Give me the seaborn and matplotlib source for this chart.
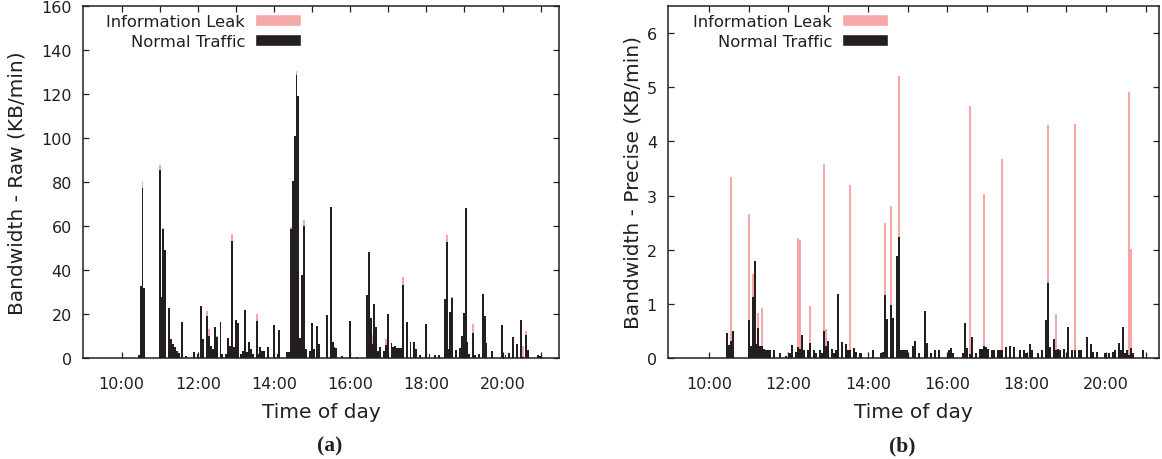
import matplotlib.pyplot as plt
import numpy as np
import pandas as pd
import seaborn as sns
from matplotlib.patches import Patch

LEAK_COLOR = "#F5A8A7"
NORMAL_COLOR = "#231F20"
INK = "#231F20"

# (a) raw bandwidth, KB/min, 3-minute bins
raw_times = [
    "10:27", "10:30", "10:33", "10:36", "11:00", "11:03", "11:06", "11:09", "11:15", "11:18",
    "11:21", "11:24", "11:27", "11:30", "11:36", "11:42", "11:54", "12:00", "12:06", "12:09",
    "12:15", "12:18", "12:21", "12:24", "12:27", "12:30", "12:36", "12:39", "12:45", "12:48",
    "12:51", "12:54", "12:57", "13:00", "13:03", "13:09", "13:12", "13:15", "13:18", "13:21",
    "13:24", "13:27", "13:33", "13:36", "13:39", "13:42", "13:45", "13:51", "14:00", "14:06",
    "14:09", "14:21", "14:24", "14:27", "14:30", "14:33", "14:36", "14:39", "14:42", "14:45",
    "14:48", "14:51", "14:57", "15:00", "15:03", "15:09", "15:12", "15:24", "15:30", "15:33",
    "15:36", "15:39", "15:48", "16:00", "16:12", "16:27", "16:30", "16:33", "16:36", "16:39",
    "16:42", "16:45", "16:48", "16:54", "16:57", "17:00", "17:06", "17:09", "17:12", "17:15",
    "17:18", "17:21", "17:24", "17:30", "17:36", "17:42", "17:45", "17:51", "18:00", "18:06",
    "18:15", "18:21", "18:30", "18:33", "18:36", "18:39", "18:42", "18:48", "18:54", "18:57",
    "19:00", "19:03", "19:06", "19:09", "19:15", "19:18", "19:24", "19:30", "19:33", "19:36",
    "19:45", "20:00", "20:06", "20:12", "20:18", "20:24", "20:30", "20:33", "20:39", "20:42",
    "20:57", "21:00",
]
raw_normal = [
    1.4, 32.6, 77.3, 31.7, 85.6, 27.6, 58.8, 49.2, 22.6, 8.7,
    6.4, 4.9, 3.3, 2.3, 16.2, 1.1, 2.6, 1.8, 23.5, 8.7,
    19.3, 10.2, 5.6, 4.1, 14.3, 9.4, 16.2, 1.8, 1.8, 9.1,
    5.6, 53.0, 4.9, 17.5, 15.9, 1.8, 3.3, 22.0, 2.6, 7.1,
    4.1, 1.8, 17.0, 1.8, 4.9, 3.3, 3.3, 4.9, 15.2, 1.8,
    12.8, 2.6, 2.6, 58.8, 80.3, 101.0, 128.6, 119.1, 9.0, 37.8,
    59.8, 4.1, 3.3, 15.9, 4.1, 14.7, 6.4, 19.6, 68.5, 7.1,
    4.9, 4.6, 1.1, 16.7, 0.6, 28.7, 48.4, 18.1, 6.4, 24.6,
    14.0, 3.3, 4.9, 3.3, 5.9, 20.0, 6.8, 4.9, 5.3, 4.6,
    4.6, 4.6, 33.3, 16.2, 7.1, 7.1, 4.1, 1.4, 15.5, 1.8,
    1.4, 1.4, 26.9, 52.8, 4.1, 20.8, 27.2, 3.8, 4.4, 9.9,
    20.5, 68.2, 7.1, 1.8, 11.4, 1.4, 1.8, 28.9, 19.0, 6.7,
    3.3, 15.2, 1.4, 2.1, 9.7, 6.4, 17.5, 0.5, 10.6, 3.8,
    1.4, 1.1,
]
raw_leak = [
    0, 0, 2.9, 0, 2.0, 0, 0.3, 0, 0, 0,
    0, 0, 0, 0, 0, 0, 0, 0, 0, 0,
    2.0, 3.0, 0, 0, 0, 0.5, 0, 0, 0, 0,
    0, 3.3, 0, 0, 0, 0, 0, 0, 0, 0,
    0, 0, 3.0, 0, 0, 0, 0, 0, 0, 0,
    0, 0, 0, 0.9, 0, 0, 1.8, 0, 0, 0,
    3.0, 0, 0, 0, 0, 0, 0, 0, 0, 0,
    0, 0, 0, 0, 0, 0, 0, 0, 4.1, 0,
    0, 0, 0, 0, 2.7, 0, 0, 0, 0, 0,
    0, 0, 3.5, 0, 0, 0, 0, 0, 0, 0,
    0, 0, 0, 2.9, 0, 0, 0.5, 0, 0, 0,
    0, 0, 0, 0, 4.1, 0, 0, 0, 0, 0,
    0, 0, 0, 0, 0, 0, 0, 5.0, 1.5, 0,
    0, 0,
]

# (b) precise bandwidth, KB/min, 3-minute bins
precise_times = [
    "10:27", "10:30", "10:33", "10:36", "11:00", "11:03", "11:06", "11:09", "11:12", "11:15",
    "11:18", "11:21", "11:24", "11:27", "11:30", "11:33", "11:39", "11:48", "11:57", "12:03",
    "12:06", "12:12", "12:15", "12:18", "12:21", "12:24", "12:30", "12:33", "12:39", "12:42",
    "12:48", "12:51", "12:54", "12:57", "13:00", "13:06", "13:09", "13:12", "13:15", "13:21",
    "13:27", "13:30", "13:33", "13:39", "13:42", "13:48", "13:51", "14:09", "14:21", "14:24",
    "14:27", "14:30", "14:36", "14:39", "14:45", "14:48", "14:51", "14:54", "14:57", "15:00",
    "15:09", "15:12", "15:18", "15:27", "15:30", "15:36", "15:42", "15:48", "16:03", "16:06",
    "16:09", "16:24", "16:27", "16:30", "16:36", "16:39", "16:45", "16:51", "16:54", "16:57",
    "17:00", "17:03", "17:09", "17:12", "17:18", "17:21", "17:24", "17:30", "17:36", "17:42",
    "17:51", "17:57", "18:00", "18:06", "18:09", "18:18", "18:24", "18:30", "18:33", "18:36",
    "18:42", "18:45", "18:48", "18:51", "18:57", "19:03", "19:09", "19:15", "19:21", "19:24",
    "19:33", "19:39", "19:42", "19:48", "20:00", "20:06", "20:12", "20:15", "20:21", "20:24",
    "20:27", "20:30", "20:33", "20:36", "20:39", "20:42", "20:57",
]
precise_normal = [
    0.47, 0.24, 0.32, 0.49, 0.71, 0.23, 1.12, 1.79, 0.26, 0.55,
    0.23, 0.23, 0.17, 0.14, 0.15, 0.14, 0.14, 0.09, 0.04, 0.10,
    0.24, 0.12, 0.21, 0.17, 0.42, 0.15, 0.14, 0.28, 0.14, 0.10,
    0.14, 0.10, 0.49, 0.23, 0.31, 0.17, 0.10, 0.15, 1.19, 0.30,
    0.26, 0.14, 0.14, 0.18, 0.12, 0.10, 0.09, 0.14, 0.10, 0.12,
    1.17, 0.72, 0.98, 0.73, 1.89, 2.24, 0.14, 0.14, 0.14, 0.14,
    0.23, 0.32, 0.10, 0.87, 0.28, 0.10, 0.14, 0.14, 0.15, 0.18,
    0.10, 0.10, 0.64, 0.18, 0.07, 0.39, 0.10, 0.17, 0.17, 0.23,
    0.20, 0.17, 0.15, 0.15, 0.14, 0.14, 0.15, 0.20, 0.23, 0.21,
    0.14, 0.14, 0.09, 0.26, 0.14, 0.09, 0.14, 0.71, 1.38, 0.20,
    0.35, 0.14, 0.17, 0.14, 0.17, 0.58, 0.14, 0.14, 0.14, 0.14,
    0.39, 0.26, 0.12, 0.12, 0.10, 0.10, 0.12, 0.14, 0.27, 0.14,
    0.58, 0.10, 0.14, 0.05, 0.18, 0.10, 0.14,
]
precise_leak = [
    0, 0, 3.03, 0, 1.94, 0, 0.43, 0, 0, 0.29,
    0, 0.69, 0, 0, 0, 0, 0, 0, 0, 0,
    0, 0, 2.0, 2.0, 0, 0, 0, 0.68, 0, 0,
    0, 0, 3.1, 0.3, 0, 0, 0, 0, 0, 0,
    0, 0, 3.06, 0, 0, 0, 0, 0, 0, 0,
    1.33, 0, 1.83, 0, 0, 2.96, 0, 0, 0, 0,
    0, 0, 0, 0, 0, 0, 0, 0, 0, 0,
    0, 0, 0, 0, 4.58, 0, 0, 0, 0, 2.8,
    0, 0, 0, 0, 0, 0, 3.53, 0, 0, 0,
    0, 0, 0, 0, 0, 0, 0, 0, 2.92, 0,
    0, 0.68, 0, 0, 0, 0, 0, 4.18, 0, 0,
    0, 0, 0, 0, 0, 0, 0, 0, 0, 0,
    0, 0, 0, 4.86, 1.83, 0, 0,
]

hour_ticks = list(range(10, 22))
hour_labels = ["10:00", "", "12:00", "", "14:00", "", "16:00", "", "18:00", "", "20:00", ""]
kinds = ["Information Leak", "Normal Traffic"]

sns.set_theme(style="ticks")
plt.rcParams.update(
    {
        "font.family": "DejaVu Sans",
        "text.color": INK,
        "axes.labelcolor": INK,
        "xtick.color": INK,
        "ytick.color": INK,
        "axes.edgecolor": INK,
    }
)


def to_minutes(stamps):
    out = []
    for s in stamps:
        h, m = s.split(":")
        out.append(int(h) * 60 + int(m))
    return out


def long_frame(times, normal, leak):
    minutes = to_minutes(times)
    return pd.DataFrame(
        {
            "minute": minutes + minutes,
            "kbmin": list(normal) + list(leak),
            "kind": ["Normal Traffic"] * len(normal) + ["Information Leak"] * len(leak),
        }
    )


def draw_panel(ax, frame, xlim, ylim, yticks, ylabel, legend_x, ylabel_x):
    # 3-minute bins centred on the sample times
    sns.histplot(
        data=frame,
        x="minute",
        weights="kbmin",
        hue="kind",
        hue_order=kinds,
        multiple="stack",
        binwidth=3,
        binrange=(538.5, 1299),
        palette={"Information Leak": LEAK_COLOR, "Normal Traffic": NORMAL_COLOR},
        alpha=1,
        linewidth=0,
        legend=False,
        ax=ax,
    )
    ax.set_xlim(*xlim)
    ax.set_ylim(*ylim)
    ax.set_xticks([h * 60 for h in hour_ticks], hour_labels)
    ax.set_yticks(yticks)
    ax.tick_params(axis="both", direction="in", top=True, right=True, length=4, width=0.9, labelsize=11.5)
    ax.tick_params(axis="x", pad=13)
    ax.tick_params(axis="y", pad=8)
    for spine in ax.spines.values():
        spine.set_visible(True)
        spine.set_linewidth(1.1)
    ax.set_xlabel("Time of day", fontsize=14.5, labelpad=8)
    ax.set_ylabel(ylabel, fontsize=14.5)
    ax.yaxis.set_label_coords(ylabel_x, 0.5)

    handles = [Patch(facecolor=LEAK_COLOR, label=kinds[0]), Patch(facecolor=NORMAL_COLOR, label=kinds[1])]
    ax.legend(
        handles=handles,
        loc="upper right",
        bbox_to_anchor=(legend_x, 0.977),
        markerfirst=False,
        frameon=False,
        borderpad=0,
        borderaxespad=0,
        handlelength=2.8,
        handleheight=0.75,
        handletextpad=0.6,
        labelspacing=0.3,
        fontsize=11.8,
    )


fig = plt.figure(figsize=(11.62, 4.60), dpi=100)
ax_raw = fig.add_axes([83 / 1162, 1 - 359 / 460, 476 / 1162, 352 / 460])
ax_precise = fig.add_axes([668 / 1162, 1 - 359 / 460, 491 / 1162, 352 / 460])

draw_panel(
    ax_raw,
    long_frame(raw_times, raw_normal, raw_leak),
    (539, 1289),
    (0, 160),
    list(range(0, 161, 20)),
    "Bandwidth - Raw (KB/min)",
    0.458,
    -0.118,
)
draw_panel(
    ax_precise,
    long_frame(precise_times, precise_normal, precise_leak),
    (538, 1280),
    (0, 6.5),
    list(range(0, 7)),
    "Bandwidth - Precise (KB/min)",
    0.448,
    -0.051,
)

fig.text(330 / 1162, 1 - 446 / 460, "(a)", ha="center", va="center",
         family="Liberation Serif", weight="bold", fontsize=15.5)
fig.text(902 / 1162, 1 - 446 / 460, "(b)", ha="center", va="center",
         family="Liberation Serif", weight="bold", fontsize=15.5)

fig.savefig("out.png", dpi=100, facecolor="white")
